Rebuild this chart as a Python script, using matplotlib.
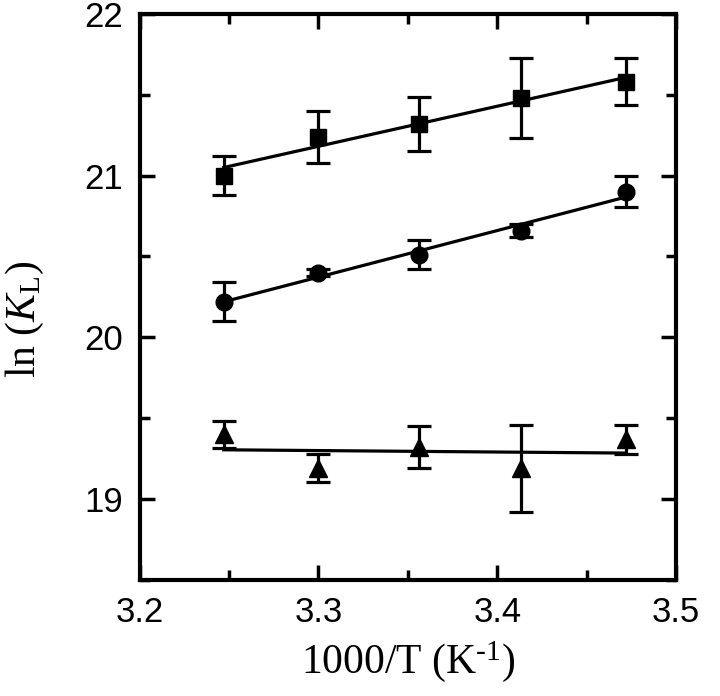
import numpy as np
import matplotlib
matplotlib.use("Agg")
import matplotlib.pyplot as plt
from matplotlib.ticker import MultipleLocator

plt.rcParams['mathtext.fontset'] = 'custom'
plt.rcParams['mathtext.rm'] = 'Liberation Serif'
plt.rcParams['mathtext.it'] = 'Liberation Serif:italic'

x = [3.247, 3.300, 3.356, 3.413, 3.472]
sq_y = [21.00, 21.24, 21.32, 21.48, 21.58]
sq_err = [0.12, 0.16, 0.165, 0.25, 0.145]
ci_y = [20.22, 20.40, 20.51, 20.66, 20.90]
ci_err = [0.12, 0.02, 0.09, 0.04, 0.095]
tr_y = [19.40, 19.19, 19.32, 19.19, 19.37]
tr_err = [0.085, 0.085, 0.13, 0.27, 0.09]

fig = plt.figure(figsize=(7.2, 6.96), dpi=100)
ax = fig.add_axes([0.194, 0.167, 0.745, 0.813])

xa = np.array(x)
for y, e, m, ms in [(sq_y, sq_err, 's', 11.5), (ci_y, ci_err, 'o', 12), (tr_y, tr_err, '^', 12.5)]:
    ax.errorbar(x, y, yerr=e, fmt=m, color='black', ms=ms, capsize=8.5,
                elinewidth=2.3, capthick=2.3, zorder=3)
    p = np.polyfit(xa, np.array(y), 1)
    xx = np.array([xa[0], xa[-1]])
    ax.plot(xx, np.polyval(p, xx), color='black', lw=2.3, zorder=2)

ax.set_xlim(3.2, 3.5)
ax.set_ylim(18.5, 22)
ax.xaxis.set_minor_locator(MultipleLocator(0.05))
ax.yaxis.set_minor_locator(MultipleLocator(0.5))
ax.set_xticks([3.2, 3.3, 3.4, 3.5])
ax.set_xticklabels(['3.2', '3.3', '3.4', '3.5'])
ax.set_yticks([19, 20, 21, 22])
ax.set_yticklabels(['19', '20', '21', '22'])

for s in ax.spines.values():
    s.set_linewidth(3)
ax.tick_params(which='both', direction='in', top=True, right=True, width=2.5,
               labelsize=25, pad=12)
ax.tick_params(which='major', length=11)
ax.tick_params(which='minor', length=7)
for lab in ax.get_xticklabels() + ax.get_yticklabels():
    lab.set_fontfamily('Liberation Sans')

ax.set_xlabel(r'1000/T (K$^{\text{-}1}$)', fontsize=30, fontfamily='Liberation Serif')
ax.set_ylabel(r'ln ($K_{\rm L}$)', fontsize=30, fontfamily='Liberation Serif')
ax.yaxis.set_label_coords(-0.175, 0.46)
ax.xaxis.set_label_coords(0.5, -0.105)

fig.savefig('out.png', dpi=100)
